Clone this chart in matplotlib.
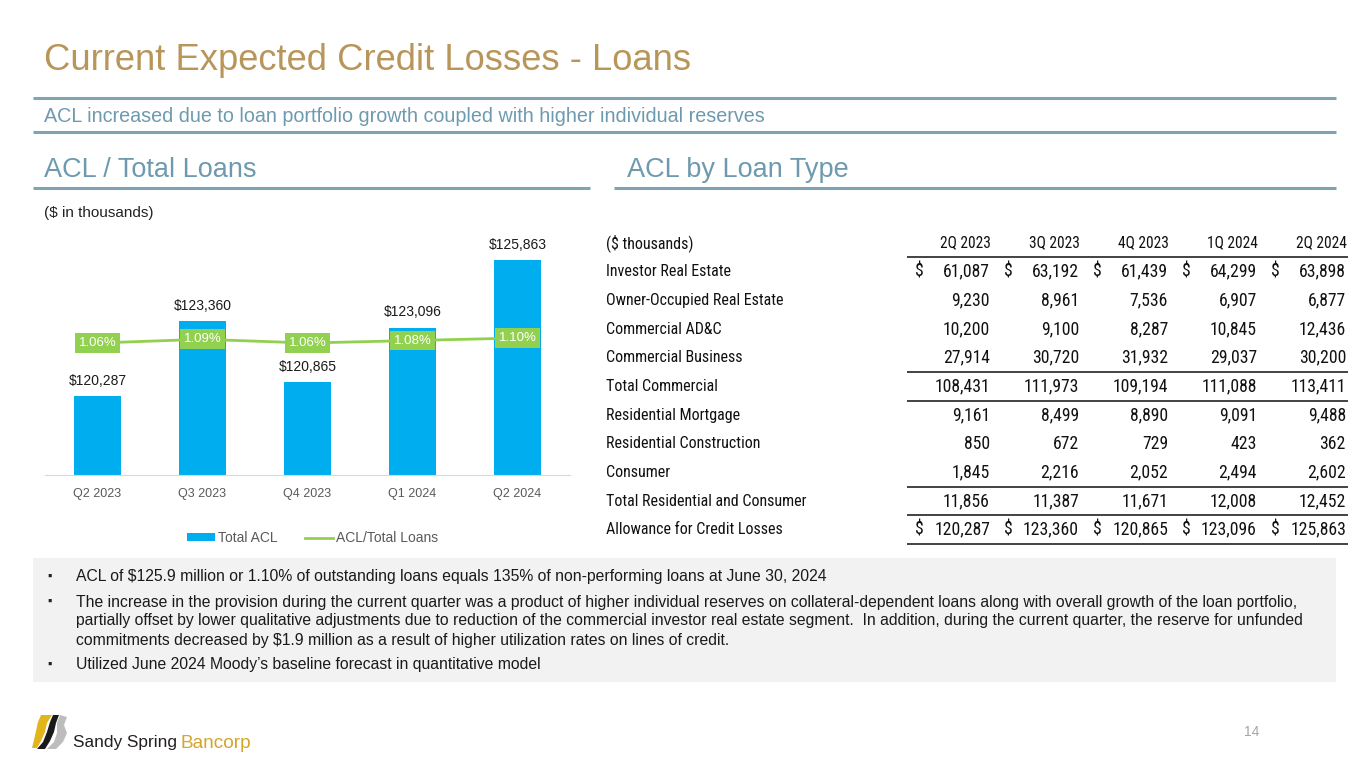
import matplotlib
matplotlib.use("Agg")
import matplotlib.pyplot as plt
from matplotlib import font_manager
from matplotlib.font_manager import FontProperties
from matplotlib.patches import Rectangle, Polygon

# ---------------- data ----------------
quarters = ['Q2 2023', 'Q3 2023', 'Q4 2023', 'Q1 2024', 'Q2 2024']
total_acl = [120287, 123360, 120865, 123096, 125863]
acl_ratio = [1.06, 1.09, 1.06, 1.08, 1.10]

table_cols = ['2Q 2023', '3Q 2023', '4Q 2023', '1Q 2024', '2Q 2024']
table_rows = ['Investor Real Estate', 'Owner-Occupied Real Estate', 'Commercial AD&C',
              'Commercial Business', 'Total Commercial', 'Residential Mortgage',
              'Residential Construction', 'Consumer', 'Total Residential and Consumer',
              'Allowance for Credit Losses']
investor_re = [61087, 63192, 61439, 64299, 63898]
owner_occ_re = [9230, 8961, 7536, 6907, 6877]
commercial_adc = [10200, 9100, 8287, 10845, 12436]
commercial_bus = [27914, 30720, 31932, 29037, 30200]
total_commercial = [108431, 111973, 109194, 111088, 113411]
res_mortgage = [9161, 8499, 8890, 9091, 9488]
res_construction = [850, 672, 729, 423, 362]
consumer = [1845, 2216, 2052, 2494, 2602]
total_res_cons = [11856, 11387, 11671, 12008, 12452]
allowance = [120287, 123360, 120865, 123096, 125863]
table_values = [investor_re, owner_occ_re, commercial_adc, commercial_bus, total_commercial,
                res_mortgage, res_construction, consumer, total_res_cons, allowance]
dollar_rows = [0, 9]

bullets = [
    ["ACL of $125.9 million or 1.10% of outstanding loans equals 135% of non-performing loans at June 30, 2024"],
    ["The increase in the provision during the current quarter was a product of higher individual reserves on collateral-dependent loans along with overall growth of the loan portfolio,",
     "partially offset by lower qualitative adjustments due to reduction of the commercial investor real estate segment.  In addition, during the current quarter, the reserve for unfunded",
     "commitments decreased by $1.9 million as a result of higher utilization rates on lines of credit."],
    ["Utilized June 2024 Moody\u2019s baseline forecast in quantitative model"],
]

# ---------------- fonts ----------------
ttf = font_manager.fontManager.ttflist
names = {f.name for f in ttf}
SANS = 'Liberation Sans' if 'Liberation Sans' in names else 'DejaVu Sans'
plt.rcParams['font.family'] = [SANS, 'DejaVu Sans']


def find_narrow():
    def regular(f):
        return f.style == 'normal' and f.weight in (400, 'normal', 'regular', 'book')
    for nm in ['Liberation Sans Narrow', 'Arial Narrow', 'Roboto Condensed', 'Open Sans Condensed']:
        for f in ttf:
            if f.name == nm and regular(f):
                return FontProperties(fname=f.fname)
    for nm in ['Noto Sans', 'Open Sans', 'Roboto', 'DejaVu Sans']:
        for st in ['condensed', 'semi-condensed', 'extra-condensed']:
            for f in ttf:
                if f.name == nm and f.stretch == st and regular(f):
                    return FontProperties(fname=f.fname)
    return FontProperties(family='DejaVu Sans', stretch='condensed')


NARROW_FP = find_narrow()

GOLD = '#B8965A'
STEEL = '#6E9AAF'
RULE = '#82A3B4'
BLUE = '#00AEEF'
GREEN = '#92D050'
INK = '#111111'

W, H = 1365, 768
fig = plt.figure(figsize=(W / 100, H / 100), dpi=100)
renderer = fig.canvas.get_renderer()
bg = fig.add_axes([0, 0, 1, 1])
bg.set_xlim(0, W)
bg.set_ylim(H, 0)
bg.axis('off')


def width_px(t):
    return t.get_window_extent(renderer).width

# title & rules
bg.text(44, 61, 'Current Expected Credit Losses - Loans', color=GOLD, fontsize=26.2,
        va='center', ha='left')
bg.plot([33, 1336], [98, 98], color=RULE, lw=2.2, solid_capstyle='butt')
bg.text(44, 117, 'ACL increased due to loan portfolio growth coupled with higher individual reserves',
        color=STEEL, fontsize=14.2, va='center', ha='left')
bg.plot([33, 1336], [132, 132], color=RULE, lw=2.2, solid_capstyle='butt')
bg.text(44, 170, 'ACL / Total Loans', color=STEEL, fontsize=19.5, va='center', ha='left')
bg.plot([33, 590], [188, 188], color=RULE, lw=2.2, solid_capstyle='butt')
bg.text(627, 170, 'ACL by Loan Type', color=STEEL, fontsize=19.5, va='center', ha='left')
bg.plot([614, 1336], [188, 188], color=RULE, lw=2.2, solid_capstyle='butt')
bg.text(44, 213, '($ in thousands)', color='#222222', fontsize=11, va='center', ha='left')

# ---------------- chart ----------------
ax_l, ax_r, ax_b, ax_t = 45, 570, 475, 253
ax = fig.add_axes([ax_l / W, (H - ax_b) / H, (ax_r - ax_l) / W, (ax_b - ax_t) / H])
x = list(range(len(quarters)))
bars = ax.bar(x, total_acl, width=0.45, color=BLUE, zorder=2, label='Total ACL')
ax.set_xlim(-0.5, len(quarters) - 0.5)
ax.set_ylim(117050, 126150)
ax.set_xticks(x)
ax.set_xticklabels(quarters, color='#595959', fontsize=9)
ax.tick_params(axis='x', length=0, pad=9)
ax.set_yticks([])
for s in ['top', 'right', 'left']:
    ax.spines[s].set_visible(False)
ax.spines['bottom'].set_color('#D9D9D9')
ax.patch.set_alpha(0)
for xi, v in zip(x, total_acl):
    ax.annotate(f'${v:,.0f}', (xi, v), xytext=(0, 6), textcoords='offset points',
                ha='center', va='bottom', fontsize=10, color='#1a1a1a')

ax2 = ax.twinx()
ax2.set_ylim(0, 1.783)
ax2.axis('off')
line, = ax2.plot(x, acl_ratio, color=GREEN, lw=2, zorder=3, label='ACL/Total Loans')
for xi, v in zip(x, acl_ratio):
    ax2.text(xi, v, f'{v:.2f}%', ha='center', va='center', fontsize=9.5, color='white',
             zorder=4, bbox=dict(boxstyle='square,pad=0.3', fc=GREEN, ec='none'))

ax.legend(handles=[bars, line], labels=['Total ACL', 'ACL/Total Loans'], loc='center',
          bbox_to_anchor=(0.51, (ax_b - 538) / (ax_b - ax_t)), ncol=2, frameon=False,
          fontsize=10, labelcolor='#595959', handlelength=2.0, handleheight=0.45,
          handletextpad=0.2, columnspacing=2.0)

# ---------------- table ----------------
probe = bg.text(0, 0, 'Investor Real Estate', fontproperties=NARROW_FP, fontsize=12)
tfs = 12 * 125.0 / width_px(probe)
probe.remove()
tfp = NARROW_FP.copy()
tfp.set_size(tfs)
nfp = NARROW_FP.copy()
nfp.set_size(tfs * 1.1)
hfp = NARROW_FP.copy()
hfp.set_size(tfs * 0.97)

row_y0, row_dy = 243, 28.67
col_right = [990, 1079, 1168, 1257, 1346]
col_dollar = [919, 1008, 1097, 1186, 1275]
bg.text(606, row_y0, '($ thousands)', fontproperties=tfp, va='center', ha='left', color=INK)
for j, c in enumerate(table_cols):
    bg.text(col_right[j] + 1, row_y0, c, fontproperties=hfp, va='center', ha='right', color=INK)
for i, (rname, vals) in enumerate(zip(table_rows, table_values)):
    y = row_y0 + row_dy * (i + 1)
    bg.text(606, y, rname, fontproperties=tfp, va='center', ha='left', color=INK)
    for j, v in enumerate(vals):
        bg.text(col_right[j], y, f'{v:,.0f}', fontproperties=nfp, va='center', ha='right',
                color=INK)
        if i in dollar_rows:
            bg.text(col_dollar[j], y, '$', fontproperties=nfp, va='center', ha='center',
                    color=INK)
for ly in [row_y0 + row_dy * 0.5, row_y0 + row_dy * 4.5, row_y0 + row_dy * 5.5,
           row_y0 + row_dy * 8.5, row_y0 + row_dy * 9.5, row_y0 + row_dy * 10.5]:
    bg.plot([907, 1348], [ly, ly], color='#222222', lw=1.2, solid_capstyle='butt')

# ---------------- bullet box ----------------
bg.add_patch(Rectangle((33, 558), 1303, 124, fc='#F2F2F2', ec='none', zorder=0))
bullet_y = [[577], [602, 621, 640], [665]]
for lines, ys in zip(bullets, bullet_y):
    bg.text(47, ys[0], '\u25aa', fontsize=9, va='center', ha='left', color='#222222')
    for t, yy in zip(lines, ys):
        bg.text(76, yy, t, fontsize=11.3, va='center', ha='left', color='#1a1a1a')

# ---------------- footer ----------------
bg.add_patch(Polygon([[41, 715], [52, 715], [47, 723], [45, 732], [41, 741], [37, 748],
                      [32, 748], [34, 740], [36, 731], [38, 722]],
                     closed=True, fc='#E2B51C', ec='none'))
bg.add_patch(Polygon([[53, 715], [59, 715], [56, 723], [54, 732], [50, 741], [45, 749],
                      [37, 749], [43, 742], [47, 732], [50, 722]],
                     closed=True, fc='#1a1a1a', ec='none'))
bg.add_patch(Polygon([[60, 715], [67, 717], [64, 725], [67, 733], [63, 742], [56, 749],
                      [47, 749], [54, 742], [57, 733], [57, 723]],
                     closed=True, fc='#BDBDBD', ec='none'))
t1 = bg.text(73, 743, 'Sandy Spring', fontsize=12.5, va='center', ha='left', color='#231F20')
t1.set_fontsize(12.5 * 104.0 / width_px(t1))
t2 = bg.text(181, 743, 'Bancorp', fontsize=t1.get_fontsize(), va='center', ha='left',
             color='#D4A52A')
t2.set_fontsize(t1.get_fontsize() * 71.0 / width_px(t2))
bg.text(1252, 732, '14', fontsize=10, va='center', ha='center', color='#A6A6A6')

fig.savefig('out.png', dpi=100)
